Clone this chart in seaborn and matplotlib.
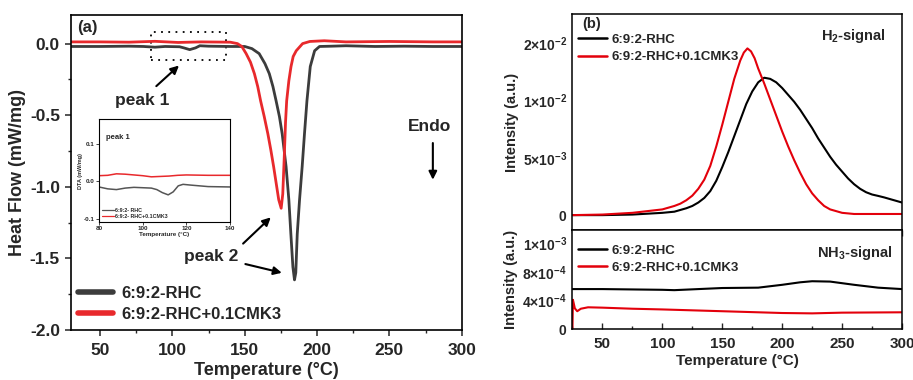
import numpy as np
import pandas as pd
import matplotlib
matplotlib.use("Agg")
import matplotlib.pyplot as plt
import seaborn as sns
from matplotlib.patches import Rectangle
from matplotlib.lines import Line2D
from matplotlib.ticker import MultipleLocator, FixedLocator, FixedFormatter, FormatStrFormatter

# ---------------- data ----------------
labels = ["6:9:2-RHC", "6:9:2-RHC+0.1CMK3"]
inset_labels = ["6:9:2- RHC", "6:9:2- RHC+0.1CMK3"]

# (a) DSC heat flow
dsc_t_rhc = [30, 50, 70, 80, 88, 95, 105, 108, 112, 116, 119, 125, 140, 150, 155, 160, 164, 167,
             169.5, 171.7, 174, 175.9, 178.6, 180.5, 181.9, 183.3, 184.4, 185.3, 186.3, 187.9,
             189.7, 191.3, 193, 195.3, 198.3, 201.7, 210, 220, 240, 260, 280, 300]
dsc_h_rhc = [-0.02, -0.02, -0.018, -0.02, -0.025, -0.02, -0.022, -0.03, -0.042, -0.03, -0.015,
             -0.018, -0.02, -0.02, -0.035, -0.07, -0.14, -0.21, -0.30, -0.40, -0.51, -0.63,
             -0.86, -1.09, -1.33, -1.56, -1.65, -1.60, -1.33, -1.09, -0.86, -0.63, -0.40,
             -0.16, -0.05, -0.02, -0.018, -0.015, -0.02, -0.018, -0.02, -0.02]
dsc_t_cmk = [30, 50, 70, 88, 104, 120, 140, 145, 148, 151, 154, 156.7, 159, 161, 163.5, 166,
             168, 170, 173.5, 175.2, 176.3, 177.3, 178.2, 179, 180.5, 182, 183.5, 185.6, 190,
             195, 205, 220, 250, 280, 300]
dsc_h_cmk = [0.012, 0.012, 0.01, 0.016, 0.008, 0.012, 0.01, 0.0, -0.02, -0.07, -0.13, -0.21,
             -0.30, -0.40, -0.51, -0.63, -0.74, -0.86, -1.09, -1.15, -1.05, -0.80, -0.55,
             -0.40, -0.26, -0.16, -0.09, -0.05, 0.0, 0.015, 0.02, 0.012, 0.015, 0.012, 0.012]

# inset (peak 1)
ins_t_rhc = [80, 84, 88, 92, 96, 100, 104, 106.5, 109, 111.7, 114, 116.3, 118.5, 122, 130, 140]
ins_h_rhc = [-0.015, -0.02, -0.022, -0.018, -0.016, -0.017, -0.018, -0.022, -0.03, -0.036,
             -0.028, -0.012, -0.008, -0.01, -0.014, -0.015]
ins_t_cmk = [80, 84, 88, 92, 96, 100, 104, 108, 112, 116, 120, 130, 140]
ins_h_cmk = [0.015, 0.016, 0.02, 0.019, 0.017, 0.015, 0.012, 0.013, 0.014, 0.016, 0.017, 0.016, 0.016]

# (b) MS signals
h2_t_rhc = [25, 50, 75, 100, 110, 120, 125, 130, 135, 140, 145, 150, 155, 160, 165, 170, 175,
            180, 185, 190, 195, 200, 205, 210, 215, 220, 225, 230, 235, 240, 245, 250, 255,
            260, 265, 270, 275, 280, 285, 290, 295, 300]
h2_i_rhc = [0.0, 0.0, 0.00005, 0.0002, 0.0003, 0.0006, 0.0008, 0.0011, 0.0015, 0.0021, 0.003,
            0.0042, 0.0055, 0.0069, 0.0083, 0.0097, 0.0108, 0.0116, 0.0120, 0.0119, 0.0116,
            0.0111, 0.0105, 0.0099, 0.0092, 0.0084, 0.0076, 0.0067, 0.0059, 0.0051, 0.0044,
            0.0038, 0.0032, 0.0027, 0.0023, 0.0020, 0.0018, 0.00168, 0.00155, 0.0014, 0.00125,
            0.0011]
h2_t_cmk = [25, 50, 75, 100, 110, 115, 120, 125, 130, 135, 140, 145, 150, 155, 160, 165, 168,
            171, 174, 177, 180, 185, 190, 195, 200, 205, 210, 215, 220, 225, 230, 235, 240,
            250, 260, 300]
h2_i_cmk = [0.0, 0.00005, 0.0002, 0.0005, 0.0008, 0.001, 0.0013, 0.0017, 0.0023, 0.0031,
            0.0043, 0.006, 0.0079, 0.0099, 0.0119, 0.0135, 0.0142, 0.01456, 0.0143, 0.0137,
            0.0128, 0.0115, 0.0101, 0.0087, 0.0073, 0.006, 0.0048, 0.0037, 0.0027, 0.0019,
            0.0013, 0.0008, 0.0005, 0.0002, 0.0001, 0.0001]

nh3_t_rhc = [25, 50, 75, 100, 110, 130, 150, 180, 200, 215, 225, 240, 260, 280, 300]
nh3_i_rhc = [5.6e-4, 5.6e-4, 5.55e-4, 5.5e-4, 5.45e-4, 5.6e-4, 5.75e-4, 5.8e-4, 6.2e-4, 6.55e-4,
             6.7e-4, 6.65e-4, 6.2e-4, 5.8e-4, 5.6e-4]
nh3_t_cmk = [25, 25.4, 27, 29, 32, 38, 50, 75, 100, 150, 200, 225, 250, 300]
nh3_i_cmk = [0.0, 4.1e-4, 2.9e-4, 2.5e-4, 2.85e-4, 3.05e-4, 3.0e-4, 2.85e-4, 2.75e-4, 2.5e-4,
             2.25e-4, 2.2e-4, 2.3e-4, 2.35e-4]

h2_ticks = [0, 0.005, 0.01, 0.015]
h2_ticklabels = [r"$\mathbf{0}$", r"$\mathbf{5{\times}10^{-3}}$", r"$\mathbf{1{\times}10^{-2}}$",
                 r"$\mathbf{2{\times}10^{-2}}$"]
nh3_ticks = [0, 4e-4, 8e-4, 1.2e-3]
nh3_ticklabels = [r"$\mathbf{0}$", r"$\mathbf{4{\times}10^{-4}}$", r"$\mathbf{8{\times}10^{-4}}$",
                  r"$\mathbf{1{\times}10^{-3}}$"]

# ---------------- style ----------------
sns.set_theme(style="ticks")
plt.rcParams["font.family"] = ["Liberation Sans", "DejaVu Sans"]
plt.rcParams["font.weight"] = "bold"
plt.rcParams["axes.labelweight"] = "bold"
plt.rcParams["mathtext.fontset"] = "custom"
plt.rcParams["mathtext.rm"] = "Liberation Sans:bold"
plt.rcParams["mathtext.bf"] = "Liberation Sans:bold"
plt.rcParams["mathtext.it"] = "Liberation Sans:bold"

GRAY = "#3c3c3c"
RED_A = "#e8292c"
BLACK = "#000000"
RED_B = "#e3000b"

fig = plt.figure(figsize=(9.13, 3.8), dpi=100)

# ---------------- panel (a) ----------------
ax = fig.add_axes([0.0778, 0.1316, 0.428, 0.829])
sns.lineplot(x=dsc_t_rhc, y=dsc_h_rhc, ax=ax, color=GRAY, lw=2, sort=False, estimator=None)
sns.lineplot(x=dsc_t_cmk, y=dsc_h_cmk, ax=ax, color=RED_A, lw=2, sort=False, estimator=None)
ax.set_xlim(30, 300)
ax.set_ylim(-2.0, 0.2)
ax.xaxis.set_major_locator(FixedLocator([50, 100, 150, 200, 250, 300]))
ax.xaxis.set_minor_locator(MultipleLocator(25))
ax.yaxis.set_major_locator(MultipleLocator(0.5))
ax.yaxis.set_minor_locator(MultipleLocator(0.25))
ax.yaxis.set_major_formatter(FormatStrFormatter("%.1f"))
ax.tick_params(axis="both", which="major", direction="out", length=4.5, width=1.1, labelsize=12.5)
ax.tick_params(axis="x", which="major", pad=5)
ax.tick_params(axis="both", which="minor", direction="out", length=2.5, width=1.0)
for lab in ax.get_xticklabels() + ax.get_yticklabels():
    lab.set_fontweight("bold")
for s in ax.spines.values():
    s.set_linewidth(1.2)
    s.set_color("black")
ax.set_xlabel("Temperature (°C)", fontsize=13, fontweight="bold", labelpad=3)
ax.set_ylabel("Heat Flow (mW/mg)", fontsize=13, fontweight="bold", labelpad=3)

handles = [Line2D([], [], color=GRAY, lw=4), Line2D([], [], color=RED_A, lw=4)]
ax.legend(handles, labels, loc="lower left", frameon=False, handlelength=2.1,
          handletextpad=0.55, borderaxespad=0.0, labelspacing=0.35, bbox_to_anchor=(0.0, 0.005),
          prop={"weight": "bold", "size": 12})

ax.text(34, 0.115, "(a)", fontsize=12, fontweight="bold", va="center", ha="left")
ax.add_patch(Rectangle((85, -0.115), 52, 0.195, fill=False, ls=(0, (1, 3)), lw=1.3, color="black"))
ax.annotate("", xy=(106, -0.14), xytext=(87.5, -0.31),
            arrowprops=dict(arrowstyle="-|>", color="black", lw=1.5, mutation_scale=12))
ax.text(79.4, -0.40, "peak 1", fontsize=12.5, fontweight="bold", ha="center", va="center")
ax.text(126.7, -1.49, "peak 2", fontsize=12.5, fontweight="bold", ha="center", va="center")
ax.annotate("", xy=(169.4, -1.20), xytext=(147.5, -1.41),
            arrowprops=dict(arrowstyle="-|>", color="black", lw=1.5, mutation_scale=12))
ax.annotate("", xy=(177.5, -1.605), xytext=(148.6, -1.535),
            arrowprops=dict(arrowstyle="-|>", color="black", lw=1.5, mutation_scale=12))
ax.text(278, -0.58, "Endo", fontsize=12.5, fontweight="bold", ha="center", va="center")
ax.annotate("", xy=(280, -0.97), xytext=(280, -0.675),
            arrowprops=dict(arrowstyle="-|>", color="black", lw=1.5, mutation_scale=12))

# inset
ai = fig.add_axes([0.1084, 0.416, 0.1435, 0.27])
sns.lineplot(x=ins_t_rhc, y=ins_h_rhc, ax=ai, color="#555555", lw=1.1, sort=False, estimator=None)
sns.lineplot(x=ins_t_cmk, y=ins_h_cmk, ax=ai, color=RED_A, lw=1.1, sort=False, estimator=None)
ai.set_xlim(80, 140)
ai.set_ylim(-0.108, 0.165)
ai.xaxis.set_major_locator(FixedLocator([80, 100, 120, 140]))
ai.yaxis.set_major_locator(FixedLocator([-0.1, 0.0, 0.1]))
ai.yaxis.set_major_formatter(FormatStrFormatter("%.1f"))
ai.tick_params(axis="both", which="major", direction="out", length=2, width=0.6, labelsize=4.5, pad=1)
for lab in ai.get_xticklabels() + ai.get_yticklabels():
    lab.set_fontweight("bold")
for s in ai.spines.values():
    s.set_linewidth(0.8)
    s.set_color("black")
ai.set_xlabel("Temperature (°C)", fontsize=4.5, fontweight="bold", labelpad=1)
ai.set_ylabel("DTA (mW/mg)", fontsize=4, fontweight="bold", labelpad=1)
ai.text(83, 0.117, "peak 1", fontsize=5.5, fontweight="bold", ha="left", va="center")
ih = [Line2D([], [], color="#555555", lw=0.9), Line2D([], [], color=RED_A, lw=0.9)]
ai.legend(ih, inset_labels, loc="lower left", frameon=False, handlelength=2.2,
          handletextpad=0.3, labelspacing=0.2, borderaxespad=0.2, prop={"weight": "bold", "size": 3.8})

# ---------------- panel (b) top ----------------
bt = fig.add_axes([0.627, 0.3947, 0.361, 0.568])
sns.lineplot(x=h2_t_rhc, y=h2_i_rhc, ax=bt, color=BLACK, lw=1.5, sort=False, estimator=None)
sns.lineplot(x=h2_t_cmk, y=h2_i_cmk, ax=bt, color=RED_B, lw=1.5, sort=False, estimator=None)
bt.set_xlim(25, 300)
bt.set_ylim(-0.0013, 0.01755)
bt.xaxis.set_major_locator(FixedLocator([50, 100, 150, 200, 250, 300]))
bt.xaxis.set_minor_locator(MultipleLocator(25))
bt.yaxis.set_major_locator(FixedLocator(h2_ticks))
bt.yaxis.set_major_formatter(FixedFormatter(h2_ticklabels))
bt.tick_params(axis="x", which="both", labelbottom=False, direction="out", length=4, width=1)
bt.tick_params(axis="x", which="minor", length=2.5)
bt.tick_params(axis="y", which="major", direction="out", length=0, labelsize=10, pad=4)
for s in bt.spines.values():
    s.set_linewidth(1.1)
    s.set_color("black")
bt.set_ylabel("Intensity (a.u.)", fontsize=10.5, fontweight="bold", labelpad=3)
bt.set_xlabel("")
bh = [Line2D([], [], color=BLACK, lw=1.8), Line2D([], [], color=RED_B, lw=1.8)]
bt.legend(bh, labels, loc="upper left", frameon=False, handlelength=2.2, handletextpad=0.35,
          labelspacing=0.4, borderaxespad=0.0, bbox_to_anchor=(0.0, 0.935),
          prop={"weight": "bold", "size": 9.5})
bt.text(0.03, 0.985, "(b)", transform=bt.transAxes, fontsize=10.5, fontweight="bold", va="top", ha="left")
bt.text(0.95, 0.90, r"H$_\mathbf{2}$-signal", transform=bt.transAxes, fontsize=10.5,
        fontweight="bold", ha="right", va="center")

# ---------------- panel (b) bottom ----------------
bb = fig.add_axes([0.627, 0.134, 0.361, 0.2605], sharex=bt)
sns.lineplot(x=nh3_t_rhc, y=nh3_i_rhc, ax=bb, color=BLACK, lw=1.5, sort=False, estimator=None)
sns.lineplot(x=nh3_t_cmk, y=nh3_i_cmk, ax=bb, color=RED_B, lw=1.5, sort=False, estimator=None)
bb.set_xlim(25, 300)
bb.set_ylim(0, 1.386e-3)
bb.yaxis.set_major_locator(FixedLocator(nh3_ticks))
bb.yaxis.set_major_formatter(FixedFormatter(nh3_ticklabels))
bb.tick_params(axis="x", which="major", direction="in", length=4, width=1, labelsize=11, pad=6)
bb.tick_params(axis="x", which="minor", direction="in", length=2.5, width=1)
bb.tick_params(axis="y", which="major", direction="out", length=0, labelsize=10, pad=4)
for lab in bb.get_xticklabels():
    lab.set_fontweight("bold")
for s in bb.spines.values():
    s.set_linewidth(1.1)
    s.set_color("black")
bb.set_xlabel("Temperature (°C)", fontsize=11, fontweight="bold", labelpad=2)
bb.set_ylabel("Intensity (a.u.)", fontsize=10.5, fontweight="bold", labelpad=3)
bb.legend(bh, labels, loc="upper left", frameon=False, handlelength=2.2, handletextpad=0.35,
          labelspacing=0.4, borderaxespad=0.0, bbox_to_anchor=(0.0, 0.91),
          prop={"weight": "bold", "size": 9.5})
bb.text(0.97, 0.77, r"NH$_\mathbf{3}$-signal", transform=bb.transAxes, fontsize=10.5,
        fontweight="bold", ha="right", va="center")

fig.savefig("out.png", dpi=100)
